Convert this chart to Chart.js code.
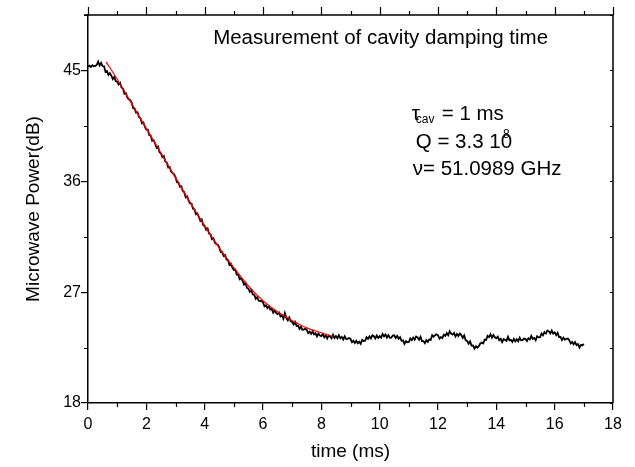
<!DOCTYPE html>
<html>
<head>
<meta charset="utf-8">
<script src="https://cdn.jsdelivr.net/npm/chart.js@4/dist/chart.umd.min.js"></script>
<style>
  html, body { margin: 0; padding: 0; background: #fff; }
  #wrap { width: 635px; height: 467px; }
</style>
</head>
<body>
<div id="wrap"><canvas id="chartDamping" width="635" height="467"></canvas></div>
<script>
// Data
var traceStart = 0;      // ms, first sample
var traceStep = 0.05;    // ms between samples
var traceDb = [
  45.30, 45.38, 45.28, 45.42, 45.33, 45.36, 45.45, 45.72, 45.40, 45.60,
  45.35, 45.34, 44.90, 44.96, 44.64, 44.79, 44.57, 44.29, 44.48, 44.13,
  44.08, 43.86, 44.00, 43.61, 43.52, 43.11, 43.16, 42.79, 42.66, 42.58,
  42.35, 41.93, 41.90, 41.57, 41.60, 41.20, 41.13, 40.70, 40.77, 40.43,
  40.20, 40.19, 39.75, 39.71, 39.29, 39.34, 39.07, 38.74, 38.83, 38.38,
  38.28, 37.96, 38.05, 37.61, 37.52, 37.11, 37.16, 36.79, 36.66, 36.58,
  36.35, 35.93, 35.90, 35.57, 35.60, 35.20, 35.13, 34.70, 34.77, 34.43,
  34.20, 34.19, 33.76, 33.73, 33.32, 33.38, 33.12, 32.80, 32.90, 32.46,
  32.37, 32.07, 32.18, 31.76, 31.69, 31.30, 31.37, 31.02, 30.91, 30.85,
  30.64, 30.25, 30.25, 29.95, 30.01, 29.64, 29.60, 29.20, 29.30, 28.99,
  28.80, 28.83, 28.43, 28.43, 28.05, 28.14, 27.91, 27.62, 27.75, 27.34,
  27.29, 27.03, 27.18, 26.81, 26.79, 26.46, 26.59, 26.31, 26.27, 26.29,
  26.16, 25.85, 25.93, 25.71, 25.86, 25.58, 25.63, 25.33, 25.53, 25.32,
  25.22, 25.34, 25.03, 25.12, 24.84, 25.30, 24.90, 24.71, 24.94, 24.63,
  24.58, 24.37, 24.58, 24.26, 24.29, 24.01, 24.19, 23.95, 23.96, 24.02,
  23.94, 23.67, 23.79, 23.62, 23.81, 23.57, 23.67, 23.41, 23.65, 23.48,
  23.43, 23.60, 23.34, 23.48, 23.24, 23.48, 23.40, 23.26, 23.54, 23.28,
  23.43, 23.26, 23.50, 23.26, 23.37, 23.16, 23.41, 23.19, 23.21, 23.28,
  23.20, 22.93, 23.05, 22.87, 23.05, 22.85, 22.98, 22.80, 23.12, 23.03,
  23.05, 23.34, 23.20, 23.41, 23.24, 23.49, 23.42, 23.24, 23.48, 23.28,
  23.43, 23.31, 23.60, 23.41, 23.57, 23.31, 23.51, 23.29, 23.31, 23.48,
  23.50, 23.28, 23.45, 23.22, 23.35, 23.05, 23.08, 22.80, 23.02, 22.93,
  22.95, 23.24, 23.10, 23.31, 23.14, 23.39, 23.32, 23.14, 23.38, 23.03,
  23.03, 22.86, 23.10, 22.96, 23.17, 23.11, 23.51, 23.39, 23.51, 23.58,
  23.50, 23.23, 23.35, 23.27, 23.55, 23.45, 23.68, 23.50, 23.82, 23.63,
  23.55, 23.69, 23.40, 23.61, 23.44, 23.64, 23.52, 23.29, 23.48, 23.08,
  23.03, 22.81, 23.00, 22.66, 22.67, 22.41, 22.61, 22.49, 22.61, 22.83,
  22.90, 22.83, 23.15, 23.12, 23.45, 23.35, 23.58, 23.30, 23.52, 23.33,
  23.25, 23.39, 23.10, 23.21, 22.94, 23.19, 23.12, 23.04, 23.38, 23.08,
  23.13, 22.96, 23.20, 23.01, 23.17, 23.01, 23.31, 23.09, 23.11, 23.23,
  23.20, 23.03, 23.25, 23.17, 23.45, 23.20, 23.28, 23.10, 23.42, 23.33,
  23.35, 23.64, 23.50, 23.76, 23.64, 23.89, 23.82, 23.64, 23.88, 23.63,
  23.73, 23.51, 23.70, 23.36, 23.37, 23.11, 23.31, 23.14, 23.21, 23.23,
  23.10, 22.83, 22.95, 22.77, 22.95, 22.70, 22.78, 22.50, 22.72, 22.68,
  22.80
];

// exponential fit (red)
var fitTime = [0.62, 1.0, 1.5, 2.0, 2.5, 3.0, 3.5, 4.0, 4.5, 5.0, 5.5, 6.0, 6.5, 7.0, 7.5, 8.0, 8.4];
var fitDb = [45.7, 44.3, 42.3, 40.3, 38.3, 36.3, 34.3, 32.4, 30.6, 29.0, 27.5, 26.3, 25.4, 24.7, 24.1, 23.7, 23.4];

var xTicks = [0, 2, 4, 6, 8, 10, 12, 14, 16, 18];
var yTicks = [18, 27, 36, 45];

var titleText = 'Measurement of cavity damping time';
var xTitle = 'time (ms)';
var yTitle = 'Microwave Power(dB)';

var FONT = "'Liberation Sans', Arial, sans-serif";

var tracePoints = traceDb.map(function (v, i) {
    return { x: +(traceStart + i * traceStep).toFixed(2), y: v };
});
var fitPoints = fitTime.map(function (t, i) {
    return { x: t, y: fitDb[i] };
});

// minor ticks, top/right frame and the text inside the plot
var framePlugin = {
    id: 'frame',
    afterDraw: function (chart) {
        var ctx = chart.ctx;
        var xs = chart.scales.x, ys = chart.scales.y;
        var a = chart.chartArea;
        ctx.save();
        ctx.strokeStyle = '#000';
        ctx.lineWidth = 1.5;
        ctx.beginPath();
        ctx.moveTo(a.left - 4, a.top);
        ctx.lineTo(a.right, a.top);
        ctx.lineTo(a.right, a.bottom);
        ctx.stroke();

        ctx.lineWidth = 1.2;
        ctx.beginPath();
        for (var t = xs.min; t <= xs.max; t += 1) {
            var px = Math.round(xs.getPixelForValue(t)) + 0.5;
            var major = t % 2 === 0;
            // top axis, outward
            ctx.moveTo(px, a.top);
            ctx.lineTo(px, a.top - (major ? 8 : 4));
            // bottom minor
            if (!major) {
                ctx.moveTo(px, a.bottom);
                ctx.lineTo(px, a.bottom + 4);
            }
        }
        for (var v = ys.min; v <= ys.max + 0.01; v += 4.5) {
            var py = Math.round(ys.getPixelForValue(v)) + 0.5;
            if (yTicks.indexOf(v) < 0) {
                ctx.moveTo(a.left, py);
                ctx.lineTo(a.left - 4, py);
            }
            ctx.moveTo(a.right, py);
            ctx.lineTo(a.right - 3, py);
        }
        ctx.stroke();

        // text
        ctx.fillStyle = '#000';
        ctx.textBaseline = 'middle';
        ctx.textAlign = 'left';
        ctx.font = '20.5px ' + FONT;
        ctx.fillText(titleText, xs.getPixelForValue(4.29), ys.getPixelForValue(47.6));

        var x0 = xs.getPixelForValue(11.1);
        var yTau = ys.getPixelForValue(41.47);
        ctx.font = '21px ' + FONT;
        ctx.fillText('\u03c4', x0, yTau);
        ctx.font = '12px ' + FONT;
        ctx.fillText('cav', x0 + 4, yTau + 6);
        ctx.font = '20.5px ' + FONT;
        ctx.fillText('= 1 ms', x0 + 30, yTau);

        var yQ = ys.getPixelForValue(39.15);
        ctx.fillText('Q = 3.3 10', x0 + 4, yQ);
        var qw = ctx.measureText('Q = 3.3 10').width;
        ctx.font = '12px ' + FONT;
        ctx.fillText('8', x0 + 4 + qw - 9, yQ - 8);

        var yNu = ys.getPixelForValue(36.95);
        ctx.font = '20.5px ' + FONT;
        ctx.fillText('\u03bd= 51.0989 GHz', x0 + 1, yNu);
        ctx.restore();
    }
};

var data = {
    datasets: [{
        label: 'signal',
        data: tracePoints,
        borderColor: '#000',
        borderWidth: 1.8,
        pointRadius: 0,
        tension: 0,
        order: 2
    }, {
        label: 'fit',
        data: fitPoints,
        borderColor: '#ff0000',
        borderWidth: 1.2,
        pointRadius: 0,
        cubicInterpolationMode: 'monotone',
        order: 1
    }]
};

var options = {
    responsive: false,
    animation: false,
    devicePixelRatio: 1,
    layout: { padding: { top: 15, right: 22, left: 0, bottom: 0 } },
    plugins: {
        legend: { display: false },
        tooltip: { enabled: false }
    },
    scales: {
        x: {
            type: 'linear',
            min: 0,
            max: 18,
            afterFit: function (s) { s.height = 64; },
            afterBuildTicks: function (s) {
                s.ticks = xTicks.map(function (v) { return { value: v }; });
            },
            ticks: { color: '#000', padding: 5, font: { family: FONT, size: 16 }, maxRotation: 0 },
            grid: { drawOnChartArea: false, tickLength: 7, color: '#000', lineWidth: 1.2 },
            border: { color: '#000', width: 1.5 },
            title: { display: true, text: xTitle, color: '#000', font: { family: FONT, size: 19 }, padding: { top: 0, bottom: 4 } }
        },
        y: {
            type: 'linear',
            min: 18,
            max: 49.5,
            afterFit: function (s) { s.width = 88; },
            afterBuildTicks: function (s) {
                s.ticks = yTicks.map(function (v) { return { value: v }; });
            },
            ticks: { color: '#000', padding: 0, font: { family: FONT, size: 16 } },
            grid: { drawOnChartArea: false, tickLength: 7, color: '#000', lineWidth: 1.2 },
            border: { color: '#000', width: 1.5 },
            title: { display: true, text: yTitle, color: '#000', font: { family: FONT, size: 19 }, padding: { top: 22, bottom: 0 } }
        }
    }
};

// Create the chart
var ctx = document.getElementById('chartDamping').getContext('2d');
var dampingChart = new Chart(ctx, {
    type: 'line',
    data: data,
    options: options,
    plugins: [framePlugin]
});
</script>
</body>
</html>
